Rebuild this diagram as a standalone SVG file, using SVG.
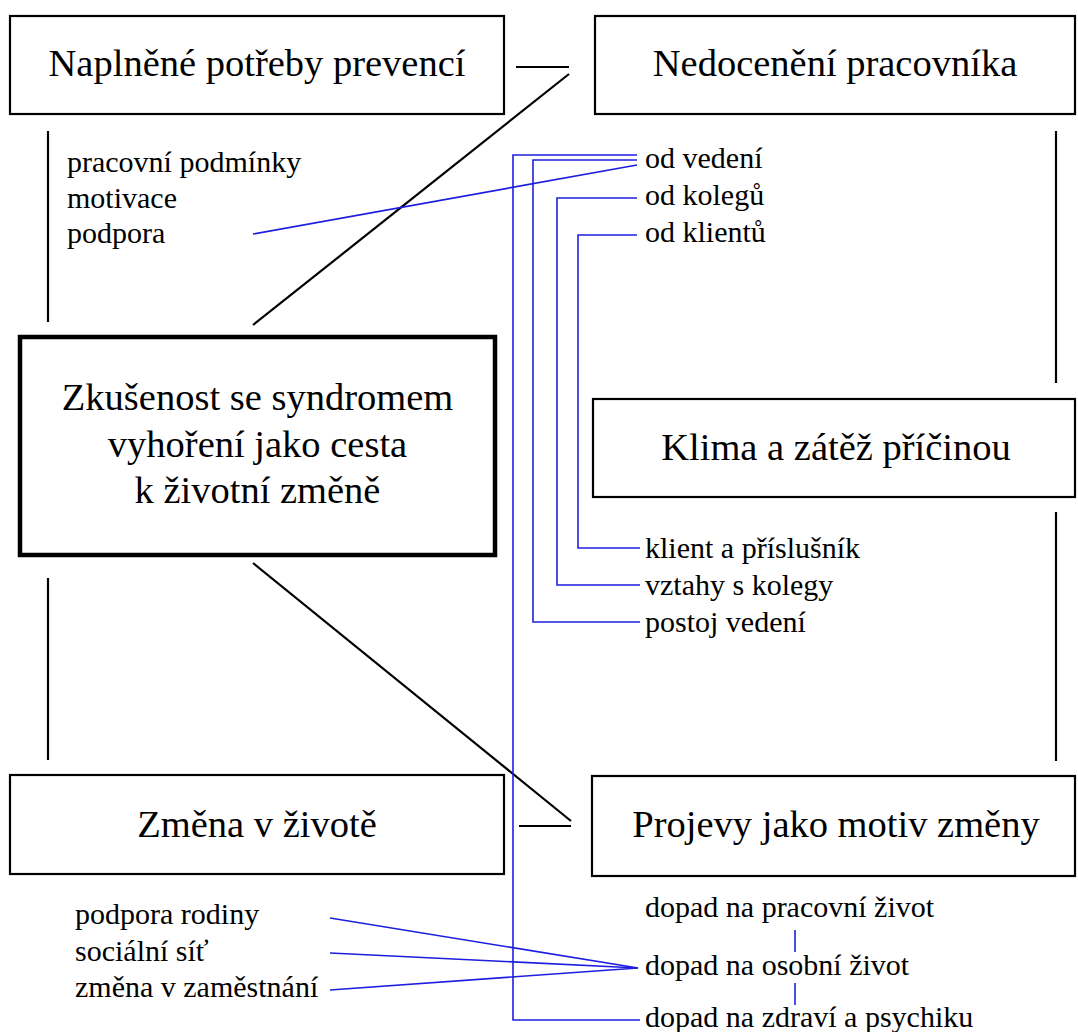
<svg xmlns="http://www.w3.org/2000/svg" width="1078" height="1032" viewBox="0 0 1078 1032" font-family="'Liberation Serif', 'Times New Roman', 'DejaVu Serif', serif">
<style>
.box{fill:#fff;stroke:#000;stroke-width:2.2}
.main{fill:#fff;stroke:#000;stroke-width:4.5}
text{font-family:'Liberation Serif','Times New Roman','DejaVu Serif',serif;fill:#000}
.t{font-size:38.5px;text-anchor:middle}
.l{font-size:30px}
.k{stroke:#000;stroke-width:2.2;fill:none}
.b{stroke:#1e1ee0;stroke-width:1.6;fill:none}
</style>
<rect width="1078" height="1032" fill="#fff"/>
<g id="connectors">
<line class="k" x1="516" y1="67" x2="569" y2="67"/>
<line class="k" x1="569" y1="74" x2="253" y2="325"/>
<line class="k" x1="48" y1="131" x2="48" y2="322"/>
<line class="k" x1="48" y1="578" x2="48" y2="760"/>
<line class="k" x1="1056" y1="131" x2="1056" y2="383"/>
<line class="k" x1="1056" y1="512" x2="1056" y2="761"/>
<line class="k" x1="253" y1="563" x2="571" y2="821"/>
<line class="k" x1="519" y1="826" x2="571" y2="826"/>
<line class="b" x1="253" y1="234" x2="637" y2="165"/>
<polyline class="b" points="637,155 513,155 513,1020 640,1020"/>
<polyline class="b" points="637,160 533,160 533,622 640,622"/>
<polyline class="b" points="637,198 557,198 557,585 640,585"/>
<polyline class="b" points="637,235 578,235 578,548 640,548"/>
<line class="b" x1="330" y1="918" x2="638" y2="968"/>
<line class="b" x1="330" y1="953" x2="638" y2="968"/>
<line class="b" x1="330" y1="990" x2="638" y2="968"/>
<line class="b" x1="795" y1="930" x2="795" y2="952"/>
<line class="b" x1="795" y1="983" x2="795" y2="1005"/>
</g>
<g id="node-naplnene">
<rect class="box" x="10" y="16" width="494" height="98"/>
<text class="t" x="257" y="76" font-family="Liberation Serif, serif">Naplněné potřeby prevencí</text>
</g>
<g id="node-nedoceneni">
<rect class="box" x="595" y="16" width="480" height="98"/>
<text class="t" x="835" y="76">Nedocenění pracovníka</text>
</g>
<g id="node-main">
<rect class="main" x="20" y="337" width="475" height="218"/>
<text class="t" x="257.5" y="410">Zkušenost se syndromem</text>
<text class="t" x="257.5" y="457">vyhoření jako cesta</text>
<text class="t" x="257.5" y="503">k životní změně</text>
</g>
<g id="node-klima">
<rect class="box" x="593" y="399" width="482" height="98"/>
<text class="t" x="836" y="460">Klima a zátěž příčinou</text>
</g>
<g id="node-zmena">
<rect class="box" x="10" y="775" width="494" height="99"/>
<text class="t" x="257" y="837">Změna v životě</text>
</g>
<g id="node-projevy">
<rect class="box" x="592" y="776" width="483" height="100"/>
<text class="t" x="836" y="837">Projevy jako motiv změny</text>
</g>
<g id="list-prevence">
<text class="l" x="67" y="172">pracovní podmínky</text>
<text class="l" x="67" y="207.5">motivace</text>
<text class="l" x="67" y="243">podpora</text>
</g>
<g id="list-nedoceneni">
<text class="l" x="645" y="168">od vedení</text>
<text class="l" x="645" y="205">od kolegů</text>
<text class="l" x="645" y="242">od klientů</text>
</g>
<g id="list-klima">
<text class="l" x="645" y="558">klient a příslušník</text>
<text class="l" x="645" y="595">vztahy s kolegy</text>
<text class="l" x="645" y="632">postoj vedení</text>
</g>
<g id="list-zmena">
<text class="l" x="75" y="924">podpora rodiny</text>
<text class="l" x="75" y="961">sociální síť</text>
<text class="l" x="75" y="997">změna v zaměstnání</text>
</g>
<g id="list-projevy">
<text class="l" x="645" y="917">dopad na pracovní život</text>
<text class="l" x="645" y="975">dopad na osobní život</text>
<text class="l" x="645" y="1027">dopad na zdraví a psychiku</text>
</g>
</svg>
